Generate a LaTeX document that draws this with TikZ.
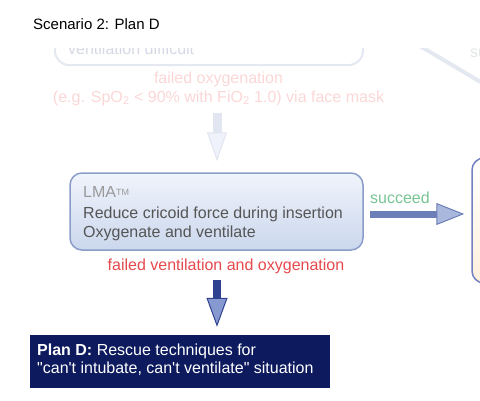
\documentclass[tikz,border=0pt]{standalone}
\usepackage{fontspec}
\setmainfont{Liberation Sans}[Ligatures=TeXOff]
\usetikzlibrary{arrows.meta,calc}
\definecolor{lmatop}{HTML}{F0F4FB}
\definecolor{lmabot}{HTML}{CBD7ED}
\definecolor{lmaborder}{HTML}{8A9DC8}
\definecolor{navy}{HTML}{0D1B5E}
\definecolor{lblred}{HTML}{E5484D}
\definecolor{lblgreen}{HTML}{78C494}
\definecolor{fadedred}{HTML}{FBD6D6}
\definecolor{fadedtext}{HTML}{D5D9E6}
\definecolor{fadedborder}{HTML}{E4E8F1}
\definecolor{fadedgreen}{HTML}{E0E8E3}
\definecolor{darkarrow}{HTML}{2F4291}
\definecolor{darkhead}{HTML}{8699D0}
\definecolor{midarrow}{HTML}{6D7FB9}
\definecolor{midhead}{HTML}{A9B8DC}
\definecolor{fadearrowc}{HTML}{E2E6F0}
\definecolor{fadehead}{HTML}{EFF2FA}
\definecolor{orangefill}{HTML}{FFF0DC}
\definecolor{rboxborder}{HTML}{7080C0}
\definecolor{txtgray}{HTML}{555555}
\definecolor{lmagray}{HTML}{999999}
\tikzset{
  txt/.style={inner sep=0pt, anchor=base west, font=\fontsize{16}{19}\selectfont},
  ctxt/.style={inner sep=0pt, anchor=base, font=\fontsize{16}{19}\selectfont},
  lmabox/.style={draw=lmaborder, line width=1.5pt, rounded corners=12pt, top color=lmatop, bottom color=lmabot, minimum width=293pt, minimum height=77pt, inner sep=0pt},
  topbox/.style={draw=fadedborder, line width=2pt, rounded corners=14pt, fill=white, minimum width=308pt, minimum height=50pt, inner sep=0pt},
  rboxst/.style={draw=rboxborder, line width=1.5pt, rounded corners=12pt, top color=white, bottom color=orangefill, minimum width=60pt, minimum height=125pt, inner sep=0pt},
  planbox/.style={fill=navy, minimum width=300pt, minimum height=53pt, inner sep=0pt},
  downarrow/.style={draw=darkarrow, line width=8pt, -{Triangle[width=21pt,length=29pt,line width=1pt,fill=darkhead]}},
  rightarrow/.style={draw=midarrow, line width=7pt, -{Triangle[width=22pt,length=28pt,line width=1pt,fill=midhead]}},
  fadearrow/.style={draw=fadearrowc, line width=9pt, -{Triangle[width=20pt,length=29pt,line width=1pt,fill=fadehead]}},
  fadeline/.style={draw=fadedborder, line width=4pt}
}
\begin{document}
\begin{tikzpicture}[x=1pt,y=-1pt]
\useasboundingbox (0,0) rectangle (480,400);
\clip (0,0) rectangle (480,400);
% faded upper part
\node[topbox] (top) at (209,40) {};
\node[txt, text=fadedtext] (topt) at (68,54) {ventilation difficult};
\coordinate (dg1) at (420,46);
\coordinate (dg2) at (484,84);
\draw[fadeline] (dg1) -- (dg2);
\node[txt, text=fadedgreen] (su) at (470,57) {su};
\fill[white] (0,0) rectangle (480,47.5);
% title
\node[txt, font=\fontsize{15}{18}\selectfont] (title) at (33,29) {Scenario 2: Plan D};
% faded label
\node[ctxt, text=fadedred] (fo1) at (218.5,83) {failed oxygenation};
\node[ctxt, text=fadedred] (fo2) at (218.5,102) {(e.g. SpO\textsubscript{2} < 90\% with FiO\textsubscript{2} 1.0) via face mask};
% LMA box
\node[lmabox] (lma) at (216.5,211.5) {};
\node[txt, text=lmagray] (lma1) at (83,197) {LMA\raisebox{1.5pt}{\fontsize{9}{9}\selectfont TM}};
\node[txt, text=txtgray] (lma2) at (83,218) {Reduce cricoid force during insertion};
\node[txt, text=txtgray] (lma3) at (83,237) {Oxygenate and ventilate};
% right box
\node[rboxst] (rbox) at (502,220.5) {};
% faded arrow
\coordinate (f1) at (217,113);
\draw[fadearrow, shorten >=11pt] (f1) -- (f1 |- lma.north);
% succeed
\node[txt, text=lblgreen] (succ) at (370,203) {succeed};
\coordinate (r1) at (370,214);
\draw[rightarrow, shorten >=7pt] (r1) -- (r1 -| rbox.west);
% failed label
\node[ctxt, text=lblred] (fvo) at (226,270) {failed ventilation and oxygenation};
% Plan D
\node[planbox] (plan) at (180,361.5) {};
\node[txt, text=white] (plan1) at (37,355) {\textbf{Plan D:} Rescue techniques for};
\node[txt, text=white] (plan2) at (37,373) {"can't intubate, can't ventilate" situation};
\coordinate (d1) at (217,280);
\draw[downarrow, shorten >=8pt] (d1) -- (d1 |- plan.north);
\end{tikzpicture}
\end{document}
